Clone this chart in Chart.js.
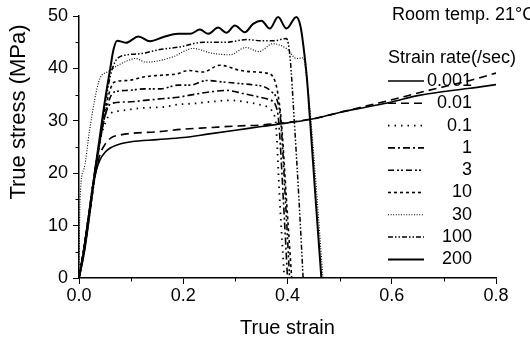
<!DOCTYPE html>
<html>
<head>
<meta charset="utf-8">
<script src="https://cdn.jsdelivr.net/npm/chart.js@4/dist/chart.umd.min.js"></script>
<style>
  html, body { margin: 0; padding: 0; background: #fff; }
  #wrap { width: 530px; height: 343px; }
</style>
</head>
<body>
<div id="wrap"><canvas id="c" width="530" height="343"></canvas></div>
<script>
// ---- Data (true strain, true stress MPa) ----
const rateLabels = ["0.001", "0.01", "0.1", "1", "3", "10", "30", "100", "200"];
const xTickValues = [0, 0.2, 0.4, 0.6, 0.8];
const yTickValues = [0, 10, 20, 30, 40, 50];

const strain_0001 = [0, 0.01, 0.02, 0.027, 0.033, 0.04, 0.05, 0.06, 0.08, 0.1, 0.15, 0.2, 0.25, 0.3, 0.35, 0.4, 0.45, 0.5, 0.55, 0.6, 0.65, 0.7, 0.75, 0.8];
const stress_0001 = [0, 6, 13, 18, 20.5, 22.5, 24, 24.8, 25.6, 26, 26.4, 26.8, 27.5, 28.2, 28.9, 29.6, 30.4, 31.6, 32.6, 33.6, 34.8, 35.6, 36.2, 36.9];

const strain_001 = [0, 0.01, 0.02, 0.03, 0.04, 0.05, 0.062, 0.08, 0.1, 0.15, 0.2, 0.25, 0.3, 0.35, 0.4, 0.45, 0.5, 0.55, 0.6, 0.65, 0.7, 0.75, 0.8];
const stress_001 = [0, 6, 13, 19, 23.5, 25.5, 26.8, 27.3, 27.6, 27.9, 28.4, 28.7, 29, 29.2, 29.7, 30.4, 31.6, 32.8, 34, 35.3, 36.5, 37.7, 39.1];

const strain_01 = [0, 0.01, 0.02, 0.03, 0.04, 0.05, 0.062, 0.08, 0.1, 0.13, 0.16, 0.19, 0.22, 0.25, 0.29, 0.32, 0.35, 0.362, 0.372, 0.378, 0.385, 0.394];
const stress_01 = [0, 6, 13, 20, 26, 29.5, 31.5, 31.9, 32.2, 32.5, 32.6, 33.1, 33.3, 33.6, 33.9, 33.6, 33, 32.6, 31.5, 29, 15, 0];

const strain_1 = [0, 0.01, 0.02, 0.03, 0.04, 0.05, 0.062, 0.094, 0.126, 0.158, 0.19, 0.213, 0.251, 0.283, 0.315, 0.347, 0.365, 0.377, 0.383, 0.392, 0.4];
const stress_1 = [0, 6, 13, 20, 26, 31, 33.3, 33.6, 33.9, 34.2, 34.5, 34.9, 35.5, 35.8, 35.2, 34.5, 34, 33, 30, 15, 0];

const strain_3 = [0, 0.01, 0.02, 0.03, 0.04, 0.05, 0.06, 0.068, 0.094, 0.126, 0.157, 0.19, 0.213, 0.245, 0.277, 0.309, 0.34, 0.355, 0.37, 0.38, 0.387, 0.396, 0.404];
const stress_3 = [0, 6, 13, 20, 26, 31, 34.5, 35.5, 35.8, 36.1, 36.1, 36.8, 36.8, 37.7, 37.4, 37.1, 36.8, 36.5, 35.5, 34, 30, 15, 0];

const strain_10 = [0, 0.01, 0.02, 0.03, 0.04, 0.05, 0.06, 0.068, 0.094, 0.126, 0.158, 0.19, 0.209, 0.238, 0.27, 0.31, 0.34, 0.36, 0.372, 0.38, 0.388, 0.398, 0.408];
const stress_10 = [0, 5, 12, 19, 26, 32, 36, 37.4, 37.7, 38.4, 38.7, 39, 39.6, 39.3, 40.6, 39.6, 39.3, 39.1, 38.4, 36, 30, 15, 0];

const strain_30 = [0, 0.002, 0.01, 0.02, 0.03, 0.038, 0.043, 0.056, 0.075, 0.094, 0.108, 0.128, 0.15, 0.18, 0.219, 0.255, 0.29, 0.32, 0.345, 0.372, 0.398, 0.417, 0.43, 0.437, 0.445, 0.457, 0.468];
const stress_30 = [0, 15, 21, 28, 34, 37.5, 38.6, 39.4, 40.6, 41.5, 41.9, 41.2, 41.4, 42.2, 43.8, 42.9, 42.6, 44, 43.2, 44.7, 43.8, 41.9, 42, 38, 30, 15, 0];

const strain_100 = [0, 0.01, 0.02, 0.03, 0.04, 0.05, 0.06, 0.068, 0.08, 0.117, 0.155, 0.194, 0.238, 0.283, 0.322, 0.347, 0.375, 0.398, 0.405, 0.413, 0.422, 0.43];
const stress_100 = [0, 5, 12, 19, 26, 33, 38.5, 41, 42.3, 42.8, 43.6, 44.1, 45, 45, 45.5, 45.3, 45.3, 45.7, 42, 30, 15, 0];

const strain_200 = [0, 0.01, 0.02, 0.03, 0.04, 0.05, 0.06, 0.066, 0.073, 0.09, 0.114, 0.136, 0.162, 0.19, 0.213, 0.232, 0.248, 0.267, 0.283, 0.299, 0.318, 0.334, 0.35, 0.366, 0.382, 0.398, 0.417, 0.425, 0.43, 0.437, 0.443, 0.454, 0.465];
const stress_200 = [0, 5, 12, 20, 27, 34, 40, 43.5, 45.3, 44.9, 46.1, 45.2, 46, 46.6, 46.6, 47.4, 46.6, 47.8, 46.8, 48.2, 46.9, 48.5, 49.1, 47.6, 49.8, 47.6, 49.8, 48, 44.7, 38.4, 30.5, 15, 0];

const strainSets = [strain_0001, strain_001, strain_01, strain_1, strain_3, strain_10, strain_30, strain_100, strain_200];
const stressSets = [stress_0001, stress_001, stress_01, stress_1, stress_3, stress_10, stress_30, stress_100, stress_200];

// ---- Styles (kept separate from the data) ----
const lineStyles = [
  { dash: [], width: 1.6 },
  { dash: [8, 5], width: 1.6 },
  { dash: [1.5, 5], width: 1.8 },
  { dash: [7, 3, 2, 3], width: 1.6 },
  { dash: [6, 3, 2, 2, 2, 3], width: 1.6 },
  { dash: [3, 3], width: 1.6 },
  { dash: [1, 1.6], width: 1.1 },
  { dash: [5, 2, 1.5, 2, 1.5, 2], width: 1.5 },
  { dash: [], width: 2 }
];

const FONT = "'Liberation Sans', Arial, Helvetica, sans-serif";

const datasets = rateLabels.map((lab, i) => ({
  label: lab,
  data: strainSets[i].map((x, k) => ({ x: x, y: stressSets[i][k] })),
  showLine: true,
  borderColor: '#000',
  backgroundColor: '#000',
  borderWidth: lineStyles[i].width,
  borderDash: lineStyles[i].dash,
  pointRadius: 0,
  cubicInterpolationMode: 'monotone',
  fill: false
}));

const minorTicks = {
  id: 'minorTicks',
  afterDraw(chart) {
    const ctx = chart.ctx, xs = chart.scales.x, ys = chart.scales.y;
    ctx.save();
    ctx.strokeStyle = '#000';
    ctx.lineWidth = 1;
    ctx.beginPath();
    [0.1, 0.3, 0.5, 0.7].forEach(v => {
      const px = Math.round(xs.getPixelForValue(v)) + 0.5;
      ctx.moveTo(px, ys.bottom); ctx.lineTo(px, ys.bottom + 3.5);
    });
    [5, 15, 25, 35, 45].forEach(v => {
      const py = Math.round(ys.getPixelForValue(v)) + 0.5;
      ctx.moveTo(xs.left, py); ctx.lineTo(xs.left - 3.5, py);
    });
    ctx.stroke();
    ctx.restore();
  }
};

const textPlugin = {
  id: 'customText',
  afterDraw(chart) {
    const ctx = chart.ctx;
    ctx.save();
    ctx.fillStyle = '#000';
    // y-axis title
    ctx.save();
    ctx.translate(19, 112);
    ctx.rotate(-Math.PI / 2);
    ctx.font = '22px ' + FONT;
    ctx.textAlign = 'center';
    ctx.textBaseline = 'middle';
    ctx.fillText('True stress (MPa)', 0, 0);
    ctx.restore();
    // legend
    ctx.font = '18px ' + FONT;
    ctx.textBaseline = 'middle';
    ctx.textAlign = 'left';
    ctx.fillText('Room temp. 21\u00B0C', 392, 15);
    ctx.fillText('Strain rate(/sec)', 388, 58);
    ctx.textAlign = 'right';
    rateLabels.forEach((lab, i) => {
      const y = 80 + 22.3 * i;
      const st = lineStyles[i];
      ctx.beginPath();
      ctx.setLineDash(st.dash);
      ctx.lineWidth = st.width;
      ctx.strokeStyle = '#000';
      ctx.moveTo(388, y + 1);
      ctx.lineTo(424, y + 1);
      ctx.stroke();
      ctx.setLineDash([]);
      ctx.fillText(lab, 472, y + 1);
    });
    ctx.restore();
  }
};

new Chart(document.getElementById('c'), {
  type: 'scatter',
  data: { datasets },
  options: {
    responsive: false,
    animation: false,
    devicePixelRatio: 1,
    layout: { padding: { top: 16, right: 34, left: 0, bottom: 0 } },
    plugins: { legend: { display: false }, tooltip: { enabled: false } },
    scales: {
      x: {
        type: 'linear',
        min: 0, max: 0.8,
        afterFit(s) { s.height = 65; },
        afterBuildTicks(s) { s.ticks = xTickValues.map(v => ({ value: v })); },
        ticks: { color: '#000', font: { family: FONT, size: 18 }, padding: 1, callback: v => v.toFixed(1), maxRotation: 0 },
        grid: { drawOnChartArea: false, drawTicks: true, tickLength: 6, color: '#000', tickWidth: 1 },
        border: { color: '#000', width: 1.5 },
        title: { display: true, text: 'True strain', color: '#000', font: { family: FONT, size: 20 }, padding: { top: 0, bottom: 3 } }
      },
      y: {
        type: 'linear',
        min: 0, max: 50,
        afterFit(s) { s.width = 79; },
        afterBuildTicks(s) { s.ticks = yTickValues.map(v => ({ value: v })); },
        ticks: { color: '#000', font: { family: FONT, size: 18 }, padding: 5 },
        grid: { drawOnChartArea: false, drawTicks: true, tickLength: 6, color: '#000', tickWidth: 1 },
        border: { color: '#000', width: 1.5 },
        title: { display: false }
      }
    }
  },
  plugins: [minorTicks, textPlugin]
});
</script>
</body>
</html>
